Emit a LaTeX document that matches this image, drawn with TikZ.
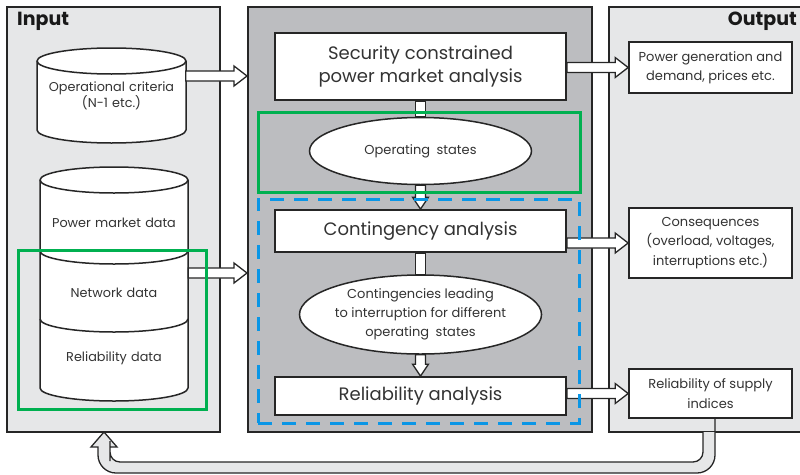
\documentclass[tikz,border=0pt]{standalone}
\usepackage{fontspec}
\setmainfont{Poppins}
\usepackage{tikz}
\usetikzlibrary{shapes.geometric}
\usetikzlibrary{calc}
\usetikzlibrary{positioning}
\definecolor{litegray}{HTML}{E6E7E8}
\definecolor{midgray}{HTML}{BCBDC0}
\definecolor{hlgreen}{HTML}{00B050}
\definecolor{hlblue}{HTML}{0A96E6}
\definecolor{txt}{HTML}{333333}

% hollow block arrows between two anchors
\newcommand\harr[2]{%
  \filldraw[hollow] let \p1=(#1), \p2=(#2) in
    (\x1,\y1+5pt) -- (\x2-13pt,\y1+5pt) -- (\x2-13pt,\y1+10pt) -- (\x2,\y1)
    -- (\x2-13pt,\y1-10pt) -- (\x2-13pt,\y1-5pt) -- (\x1,\y1-5pt) -- cycle;}
\newcommand\vshaft[2]{%
  \filldraw[hollow] let \p1=(#1), \p2=(#2) in
    (\x1-5pt,\y1) rectangle (\x1+5pt,\y2);}
\newcommand\varr[2]{%
  \filldraw[hollow] let \p1=(#1), \p2=(#2) in
    (\x1-5pt,\y1) -- (\x1-5pt,\y2+12pt) -- (\x1-8pt,\y2+12pt) -- (\x1,\y2)
    -- (\x1+8pt,\y2+12pt) -- (\x1+5pt,\y2+12pt) -- (\x1+5pt,\y1) -- cycle;}

\begin{document}
\begin{tikzpicture}[x=1pt,y=-1pt,
                panel/.style n args={3}{draw=black!85,line width=2pt,fill=#1,
                    minimum width=#2,minimum height=#3,inner sep=0pt,rectangle},
                title/.style={font=\bfseries\fontsize{19}{22}\selectfont,text=black!90,inner sep=0pt},
                proc/.style n args={2}{draw=black!85,line width=1.7pt,fill=white,
                    minimum width=#1,minimum height=#2,inner sep=0pt,
                    font=\fontsize{18}{23}\selectfont,text=txt,align=center},
                outbox/.style n args={2}{draw=black!85,line width=1.7pt,fill=white,
                    minimum width=#1,minimum height=#2,inner sep=0pt,
                    font=\fontsize{13}{19.5}\selectfont,text=txt,align=center},
                state/.style n args={2}{ellipse,draw=black!85,line width=1.5pt,fill=white,
                    minimum width=#1,minimum height=#2,inner sep=0pt,
                    font=\fontsize{13}{19}\selectfont,text=txt,align=center},
                cyltext/.style={text width=148,inner sep=0pt,align=center,
                    font=\fontsize{12.8}{16.5}\selectfont,text=txt},
                cyl/.style={fill=white,draw=black!85,line width=1.5pt},
                hollow/.style={fill=white,draw=black!85,line width=1.3pt},
                hl/.style n args={3}{draw=#1,line width=3pt,
                    minimum width=#2,minimum height=#3,inner sep=0pt,rectangle}]
    \useasboundingbox (0,0) rectangle (800,474);

    % panels
    \node[panel={litegray}{213}{425}] (inp) at (113.5,219.5) {};
    \node[panel={midgray}{344}{425}] (mid) at (420,219.5) {};
    \node[panel={litegray}{193}{425}] (outp) at (705.5,219.5) {};
    \node[title,anchor=north west] (intitle) at (17,12) {Input};
    \node[title,anchor=north east] (outtitle) at (797,12) {Output};

    % feedback loop
    \filldraw[hollow,fill=litegray] (703,432) [rounded corners=10pt] -- (703,462)
        -- (110,462) -- (110,451) [sharp corners] -- (110,447) -- (117,447) -- (104,432)
        -- (91,447) -- (98,447) -- (98,451) [rounded corners=18pt] -- (98,473)
        -- (715,473) -- (715,436) [sharp corners] -- (715,432);

    % input data stores
    \filldraw[cyl] (37,61) -- (37,130) arc[start angle=180,end angle=360,x radius=74.5pt,y radius=13pt]
        -- (186,61) arc[start angle=0,end angle=180,x radius=74.5pt,y radius=13pt] -- cycle;
    \draw[cyl] (37,61) arc[start angle=180,end angle=360,x radius=74.5pt,y radius=13pt];
    \node[cyltext] (crit) at (111.5,96) {Operational criteria\\(N-1 etc.)};

    \filldraw[cyl] (40,180) -- (40,388) arc[start angle=180,end angle=360,x radius=74pt,y radius=13pt]
        -- (188,180) arc[start angle=0,end angle=180,x radius=74pt,y radius=13pt] -- cycle;
    \draw[cyl] (40,180) arc[start angle=180,end angle=360,x radius=74pt,y radius=13pt];
    \draw[cyl] (40,251) arc[start angle=180,end angle=360,x radius=74pt,y radius=13pt];
    \draw[cyl] (40,319) arc[start angle=180,end angle=360,x radius=74pt,y radius=13pt];
    \node[cyltext] (mkt) at (114,223) {Power market data};
    \node[cyltext] (net) at (114,293) {Network data};
    \node[cyltext] (reldata) at (114,358) {Reliability data};

    % analysis chain
    \node[proc={291}{67}] (scpm) at (420.5,66.5) {Security constrained\\power market analysis};
    \node[state={222}{67}] (opst) at (420.5,151) {Operating\enspace states};
    \node[proc={291}{42}] (cont) at (420.5,231) {Contingency analysis};
    \node[state={222}{79}] (intr) at (420.5,314.5) {Contingencies leading\\to interruption for different\\operating\enspace states};
    \node[proc={291}{38}] (relan) at (420.5,396) {Reliability analysis};

    % results
    \node[outbox={163}{51}] (gen) at (710.5,67.5) {Power generation and\\demand, prices etc.};
    \node[outbox={163}{70}] (cons) at (710.5,243) {Consequences\\(overload, voltages,\\interruptions etc.)};
    \node[outbox={163}{49}] (rsi) at (710.5,393.5) {Reliability of supply\\indices};

    % connectors
    \harr{[yshift=20pt]crit.east}{mid.west}
    \harr{[yshift=20pt]net.east}{mid.west}
    \vshaft{scpm.south}{opst.north}
    \varr{opst.south}{cont.north}
    \vshaft{cont.south}{intr.north}
    \varr{intr.south}{relan.north}
    \harr{scpm.east |- gen.west}{gen.west}
    \harr{cont.east |- cons.west}{cons.west}
    \harr{relan.east |- rsi.west}{rsi.west}

    % highlighted groups
    \node[hl={hlgreen}{188}{159}] (netgrp) at (112,329.5) {};
    \node[hl={hlgreen}{322}{80}] (opgrp) at (419,152) {};
    \node[hl={hlblue}{321}{224},dash pattern=on 14pt off 10pt] (relgrp) at (418.5,311) {};
\end{tikzpicture}
\end{document}
